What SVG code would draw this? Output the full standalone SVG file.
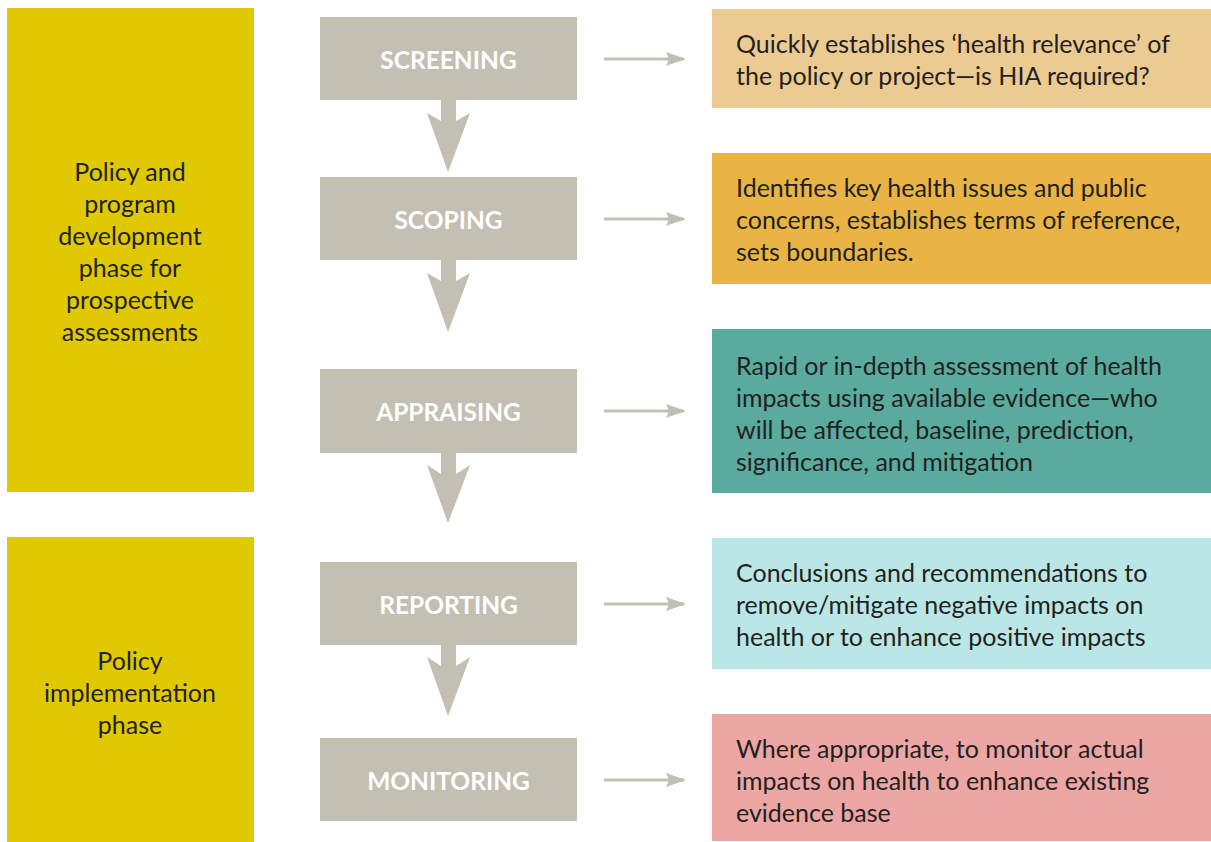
<svg xmlns="http://www.w3.org/2000/svg" width="1211" height="842" viewBox="0 0 1211 842">
<defs>
<style>
.phase{fill:#E0C900}
.step{fill:#C4BFB3}
.arr{fill:#C4BFB3}
.hl{stroke:#C4BFB3;stroke-width:3;fill:none}
.lbl{font-family:"Lato","Liberation Sans",sans-serif;font-size:24.5px;font-weight:bold;fill:#FFFFFF;text-anchor:middle}
.txt{font-family:"Lato","Liberation Sans",sans-serif;font-size:25px;fill:#231F20}
.ctr{text-anchor:middle}
</style>
<marker id="ah" viewBox="0 0 20 14" refX="18" refY="7" markerWidth="20" markerHeight="14" markerUnits="userSpaceOnUse" orient="auto">
<path d="M0,0 L20,7 L0,14 L3,7 Z" fill="#C4BFB3"/>
</marker>
</defs>
<rect width="1211" height="842" fill="#FFFFFF"/>

<g id="phase1">
<rect class="phase" x="7" y="8" width="247" height="484"/>
<text class="txt ctr" x="130" y="181">Policy and</text>
<text class="txt ctr" x="130" y="213">program</text>
<text class="txt ctr" x="130" y="245">development</text>
<text class="txt ctr" x="130" y="277">phase for</text>
<text class="txt ctr" x="130" y="309">prospective</text>
<text class="txt ctr" x="130" y="341">assessments</text>
</g>
<g id="phase2">
<rect class="phase" x="7" y="537" width="247" height="305"/>
<text class="txt ctr" x="130" y="670">Policy</text>
<text class="txt ctr" x="130" y="702">implementation</text>
<text class="txt ctr" x="130" y="734">phase</text>
</g>

<g id="screening"><rect class="step" x="320" y="17" width="257" height="83"/><text class="lbl" x="448.5" y="69">SCREENING</text></g>
<g id="scoping"><rect class="step" x="320" y="177" width="257" height="83"/><text class="lbl" x="448.5" y="229">SCOPING</text></g>
<g id="appraising"><rect class="step" x="320" y="369" width="257" height="84"/><text class="lbl" x="448.5" y="421">APPRAISING</text></g>
<g id="reporting"><rect class="step" x="320" y="562" width="257" height="83"/><text class="lbl" x="448.5" y="614">REPORTING</text></g>
<g id="monitoring"><rect class="step" x="320" y="738" width="257" height="83"/><text class="lbl" x="448.5" y="790">MONITORING</text></g>

<g id="desc1"><rect x="712" y="9" width="499" height="99" fill="#ECCB92"/>
<text class="txt" x="736" y="53">Quickly establishes ‘health relevance’ of</text>
<text class="txt" x="736" y="85">the policy or project—is HIA required?</text></g>
<g id="desc2"><rect x="712" y="153" width="499" height="131" fill="#E9B443"/>
<text class="txt" x="736" y="197">Identifies key health issues and public</text>
<text class="txt" x="736" y="229">concerns, establishes terms of reference,</text>
<text class="txt" x="736" y="261">sets boundaries.</text></g>
<g id="desc3"><rect x="712" y="329" width="499" height="164" fill="#5AAB9D"/>
<text class="txt" x="736" y="375">Rapid or in-depth assessment of health</text>
<text class="txt" x="736" y="407">impacts using available evidence—who</text>
<text class="txt" x="736" y="439">will be affected, baseline, prediction,</text>
<text class="txt" x="736" y="471">significance, and mitigation</text></g>
<g id="desc4"><rect x="712" y="538" width="499" height="131" fill="#BAE6E5"/>
<text class="txt" x="736" y="582">Conclusions and recommendations to</text>
<text class="txt" x="736" y="614">remove/mitigate negative impacts on</text>
<text class="txt" x="736" y="646">health or to enhance positive impacts</text></g>
<g id="desc5"><rect x="712" y="714" width="499" height="127" fill="#ECA6A4"/>
<text class="txt" x="736" y="758">Where appropriate, to monitor actual</text>
<text class="txt" x="736" y="790">impacts on health to enhance existing</text>
<text class="txt" x="736" y="822">evidence base</text></g>

<g id="connectors">
<path class="arr" d="M441,100 L456,100 L456,121 L470,113 L448,172 L427,113 L441,121 Z"/>
<path class="arr" d="M441,260 L456,260 L456,281 L470,273 L448,332 L427,273 L441,281 Z"/>
<path class="arr" d="M441,453 L456,453 L456,474 L470,465 L448,523 L427,465 L441,474 Z"/>
<path class="arr" d="M441,645 L456,645 L456,666 L470,657 L448,716 L427,657 L441,666 Z"/>
<line class="hl" x1="604" y1="59" x2="684" y2="59" marker-end="url(#ah)"/>
<line class="hl" x1="604" y1="219" x2="684" y2="219" marker-end="url(#ah)"/>
<line class="hl" x1="604" y1="411" x2="684" y2="411" marker-end="url(#ah)"/>
<line class="hl" x1="604" y1="604" x2="684" y2="604" marker-end="url(#ah)"/>
<line class="hl" x1="604" y1="780" x2="684" y2="780" marker-end="url(#ah)"/>
</g>
</svg>
